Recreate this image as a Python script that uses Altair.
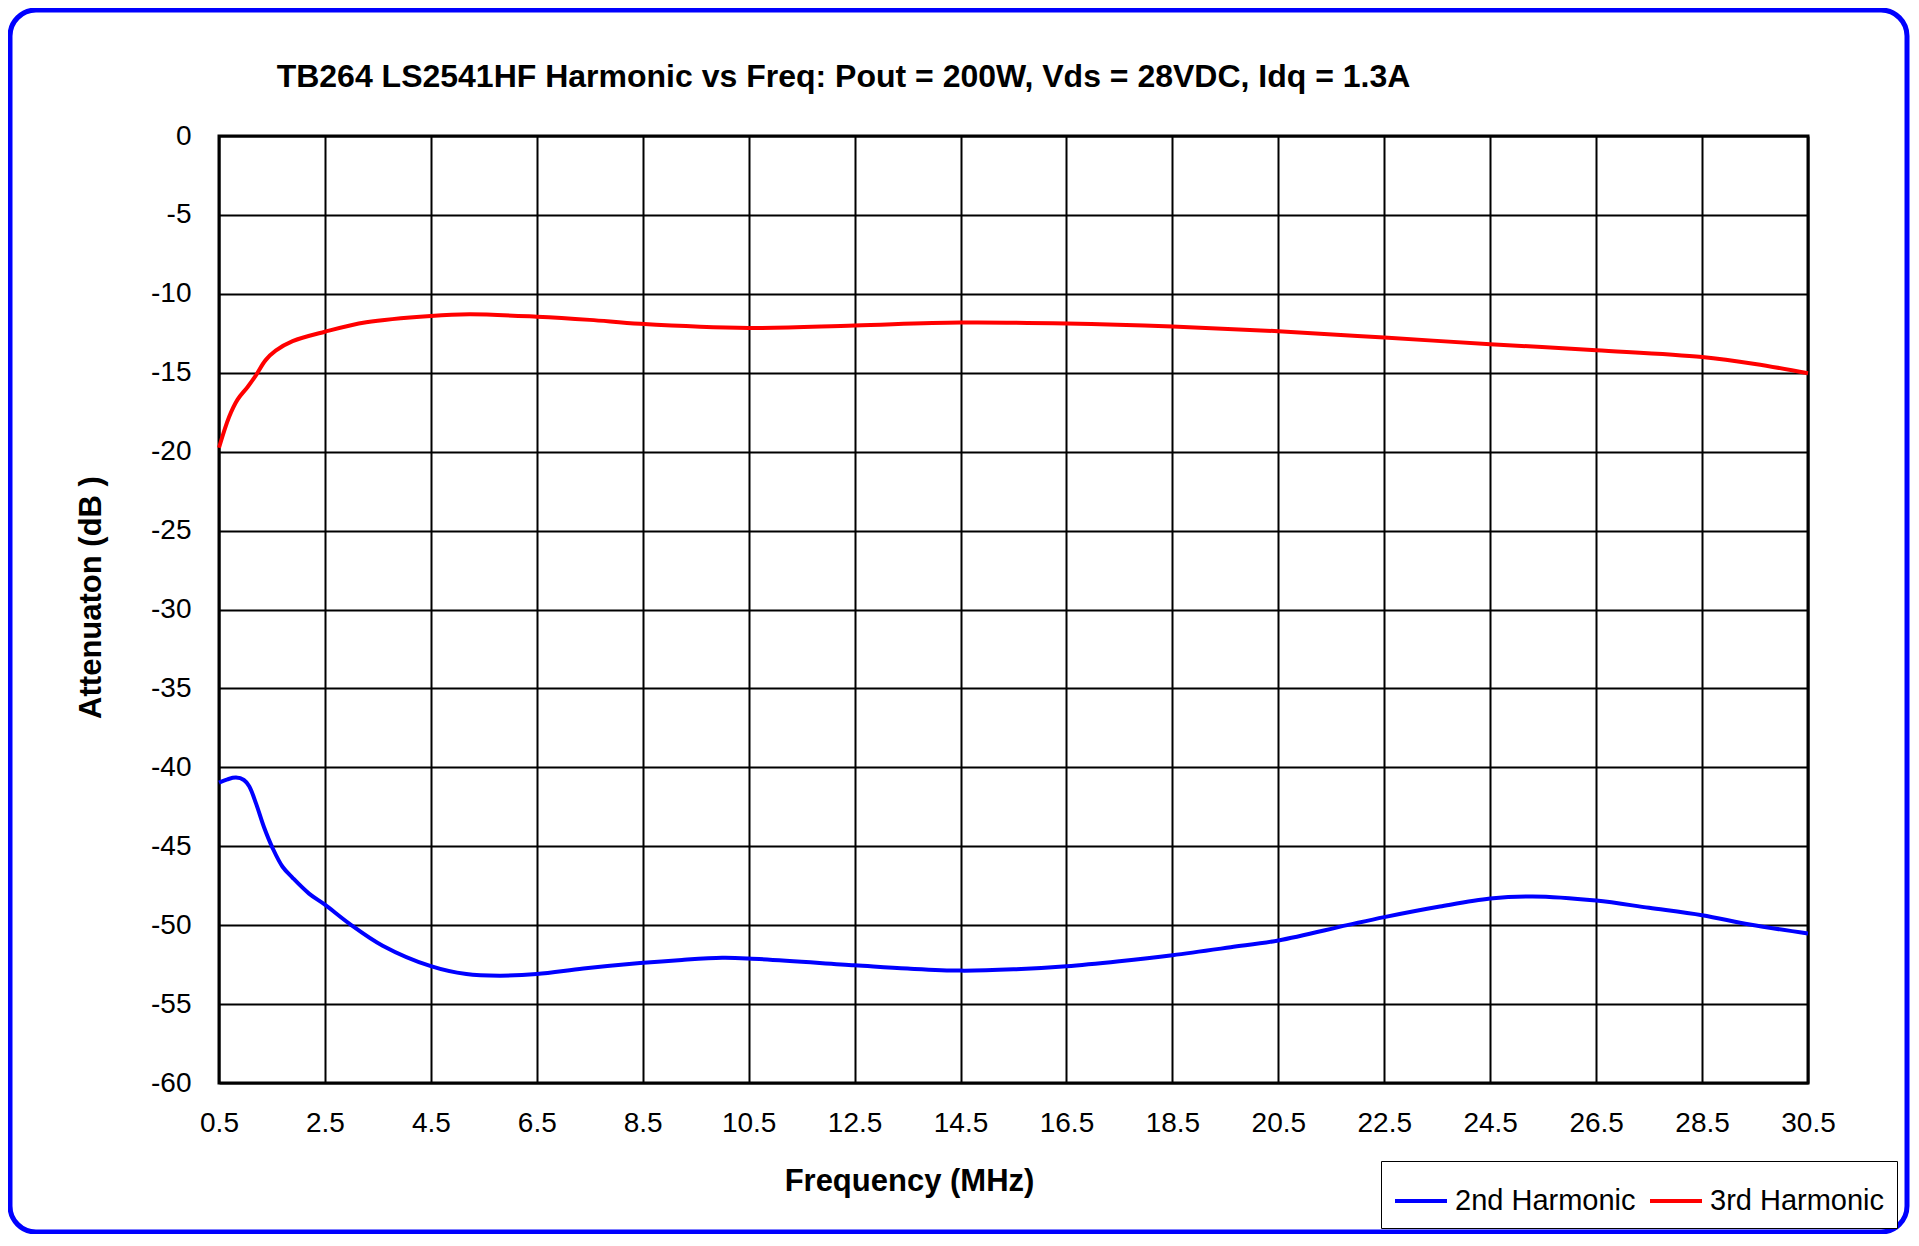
import altair as alt
import pandas as pd

# ---- data ----
series_names = ["2nd Harmonic", "3rd Harmonic"]
series_colors = ["#0000FF", "#FF0000"]

freq_2nd = [0.5, 0.66, 0.82, 0.97, 1.07, 1.2, 1.35, 1.51, 1.7, 1.89, 2.2, 2.5,
            2.96, 3.59, 4.5, 5.17, 5.8, 6.5, 7.38, 8.45, 9.24, 10.0, 10.5,
            12.5, 13.5, 14.5, 15.5, 16.5, 17.5, 18.5, 19.6, 20.5, 21.8, 22.5,
            23.55, 24.5, 25.3, 26.5, 27.5, 28.5, 29.4, 30.5]
att_2nd = [-40.97, -40.76, -40.65, -40.8, -41.2, -42.3, -43.8, -45.1, -46.3,
           -47.0, -48.0, -48.7, -49.9, -51.3, -52.6, -53.1, -53.2, -53.1,
           -52.75, -52.4, -52.2, -52.07, -52.11, -52.54, -52.75, -52.88,
           -52.8, -52.6, -52.28, -51.9, -51.4, -50.97, -50.0, -49.49, -48.82,
           -48.31, -48.18, -48.44, -48.9, -49.37, -49.96, -50.53]

freq_3rd = [0.5, 0.69, 0.85, 1.04, 1.19, 1.38, 1.57, 1.89, 2.5, 3.28, 4.5,
            5.23, 6.5, 7.5, 8.45, 10.5, 12.5, 14.5, 16.5, 18.5, 20.5, 22.5,
            24.5, 26.5, 28.5, 29.5, 30.5]
att_3rd = [-19.75, -17.8, -16.7, -15.9, -15.2, -14.2, -13.6, -13.0, -12.4,
           -11.8, -11.4, -11.3, -11.45, -11.65, -11.9, -12.16, -12.0, -11.82,
           -11.88, -12.07, -12.37, -12.77, -13.19, -13.57, -14.0, -14.44,
           -15.03]

x_ticks = [0.5, 2.5, 4.5, 6.5, 8.5, 10.5, 12.5, 14.5, 16.5, 18.5, 20.5, 22.5,
           24.5, 26.5, 28.5, 30.5]
y_ticks = [0, -5, -10, -15, -20, -25, -30, -35, -40, -45, -50, -55, -60]

title_text = "TB264  LS2541HF Harmonic vs Freq: Pout = 200W, Vds = 28VDC, Idq = 1.3A"
x_title = "Frequency (MHz)"
y_title = "Attenuaton  (dB )"

df = pd.concat([
    pd.DataFrame({"freq": freq_2nd, "att": att_2nd, "series": series_names[0]}),
    pd.DataFrame({"freq": freq_3rd, "att": att_3rd, "series": series_names[1]}),
], ignore_index=True)

FONT = "Liberation Sans"
W, H = 1589, 947

border = alt.Chart(pd.DataFrame({"k": [0]})).mark_rect(
    filled=False, stroke="#0000FF", strokeWidth=5, cornerRadius=26
).encode(
    x=alt.value(-209), x2=alt.value(1688),
    y=alt.value(-126), y2=alt.value(1096),
)

lines = alt.Chart(df).mark_line(strokeWidth=4, interpolate="catmull-rom").encode(
    x=alt.X("freq:Q",
            scale=alt.Scale(domain=[0.5, 30.5], nice=False, zero=False),
            axis=alt.Axis(values=x_ticks, title=x_title, ticks=False, domain=False,
                          grid=True, gridColor="black", gridWidth=2, gridOpacity=1,
                          labelExpr="'' + datum.value", labelFont=FONT,
                          labelFontSize=28, labelColor="black", labelPadding=26,
                          labelBaseline="top", labelFlush=False, labelOverlap=False,
                          titleFont=FONT, titleFontSize=31, titleFontWeight="bold",
                          titleColor="black", titleX=690, titleY=107,
                          titleAlign="center", titleBaseline="alphabetic")),
    y=alt.Y("att:Q",
            scale=alt.Scale(domain=[-60, 0], nice=False),
            axis=alt.Axis(values=y_ticks, title=y_title, ticks=False, domain=False,
                          grid=True, gridColor="black", gridWidth=2, gridOpacity=1,
                          labelExpr="'' + datum.value", labelFont=FONT,
                          labelFontSize=28, labelColor="black", labelPadding=28,
                          labelBaseline="middle", labelFlush=False, labelOverlap=False,
                          titleFont=FONT, titleFontSize=31, titleFontWeight="bold",
                          titleColor="black", titleAngle=270, titleX=-128, titleY=461,
                          titleAlign="center", titleBaseline="middle")),
    color=alt.Color("series:N",
                    scale=alt.Scale(domain=series_names, range=series_colors),
                    legend=alt.Legend(orient="none", legendX=1162, legendY=1025,
                                      direction="horizontal", title=None,
                                      symbolType="stroke", symbolSize=2704,
                                      symbolStrokeWidth=4, labelFont=FONT,
                                      labelFontSize=29, labelColor="black",
                                      labelOffset=6, columnPadding=6,
                                      labelLimit=0, strokeColor="black",
                                      fillColor="white", padding=12)),
)

chart = alt.layer(border, lines).properties(
    width=W, height=H,
    title=alt.TitleParams(title_text, font=FONT, fontSize=32, fontWeight="bold",
                          color="black", anchor="middle", frame="group", dx=-170,
                          dy=151, baseline="alphabetic", offset=40),
    autosize=alt.AutoSizeParams(type="none"),
    padding={"left": 211, "top": 128, "right": 102, "bottom": 151},
    background="white",
).configure_view(stroke="black", strokeWidth=3)

chart.save("out.html", embed_options={"renderer": "svg", "actions": False})
